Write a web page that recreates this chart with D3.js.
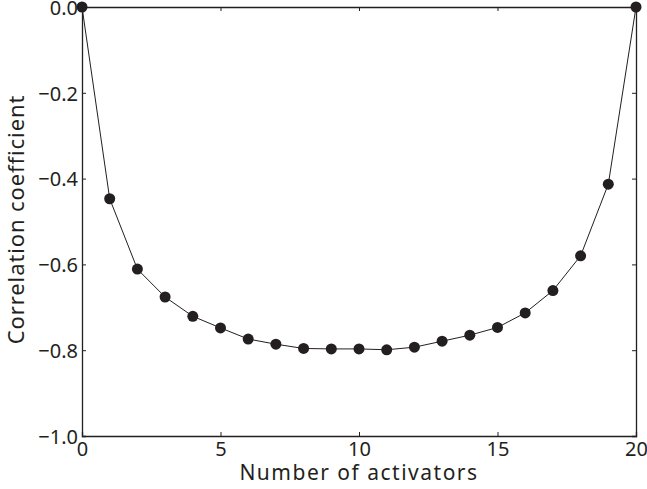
<!DOCTYPE html>
<html>
<head>
<meta charset="utf-8">
<script src="https://cdn.jsdelivr.net/npm/d3@7"></script>
<style>
    body { margin: 0; background: #fff; }
    text { font-family: "Noto Sans", "Open Sans", sans-serif; fill: #231f20; }
</style>
</head>
<body>
<div id="chart"></div>
<script>
const activators = d3.range(0, 21);
const correlation = [
    0.0, -0.447, -0.611, -0.676, -0.721, -0.748, -0.774, -0.786, -0.796, -0.797,
    -0.797, -0.799, -0.793, -0.779, -0.765, -0.747, -0.713, -0.661, -0.580, -0.413, 0.0
];
const xTicks = [0, 5, 10, 15, 20];
const yTicks = [0, -0.2, -0.4, -0.6, -0.8, -1.0];

const width = 647;
const height = 489;
const margin = { top: 7, right: 11, bottom: 53, left: 82 };
const ink = "#231f20";
const font = "'Noto Sans', 'Open Sans', sans-serif";

const svg = d3.select("#chart")
    .append("svg")
    .attr("width", width)
    .attr("height", height);

const x = d3.scaleLinear()
    .domain([0, 20])
    .range([margin.left, width - margin.right]);
const y = d3.scaleLinear()
    .domain([-1, 0])
    .range([height - margin.bottom, margin.top]);

const fmt = (d) => d3.format(".1f")(d).replace("-", "\u2212");

// ticks point inward, on all four sides
const axisB = svg.append("g")
    .attr("transform", `translate(0,${y(-1)})`)
    .call(d3.axisBottom(x).tickValues(xTicks).tickSize(-4).tickPadding(6));
const axisT = svg.append("g")
    .attr("transform", `translate(0,${y(0)})`)
    .call(d3.axisTop(x).tickValues(xTicks).tickSize(-4).tickFormat(""));
const axisL = svg.append("g")
    .attr("transform", `translate(${x(0)},0)`)
    .call(d3.axisLeft(y).tickValues(yTicks).tickSize(-4).tickPadding(4).tickFormat(fmt));
const axisR = svg.append("g")
    .attr("transform", `translate(${x(20)},0)`)
    .call(d3.axisRight(y).tickValues(yTicks).tickSize(-4).tickFormat(""));

[axisB, axisT, axisL, axisR].forEach((g) => {
    g.select(".domain").attr("stroke", ink).attr("stroke-width", 1.3);
    g.selectAll(".tick line").attr("stroke", ink);
    g.selectAll(".tick text")
        .attr("fill", ink)
        .style("font-size", "20px")
        .style("font-family", font);
});
axisB.selectAll(".tick text").attr("dy", "0.71em");
axisL.selectAll(".tick text").attr("dy", "0.36em");

const line = d3.line()
    .x((d, i) => x(activators[i]))
    .y((d) => y(d));

svg.append("path")
    .datum(correlation)
    .attr("fill", "none")
    .attr("stroke", ink)
    .attr("stroke-width", 1)
    .attr("d", line);

svg.append("g")
    .selectAll("circle")
    .data(correlation)
    .enter()
    .append("circle")
    .attr("cx", (d, i) => x(activators[i]))
    .attr("cy", (d) => y(d))
    .attr("r", 5.5)
    .attr("fill", ink);

svg.append("text")
    .attr("x", (x(0) + x(20)) / 2)
    .attr("y", 480)
    .attr("text-anchor", "middle")
    .style("font-size", "21px")
    .style("letter-spacing", "1.5px")
    .text("Number of activators");

svg.append("text")
    .attr("transform", `translate(24,${(y(0) + y(-1)) / 2 - 2}) rotate(-90)`)
    .attr("text-anchor", "middle")
    .style("font-size", "22px")
    .style("letter-spacing", "0.9px")
    .text("Correlation coefficient");
</script>
</body>
</html>
